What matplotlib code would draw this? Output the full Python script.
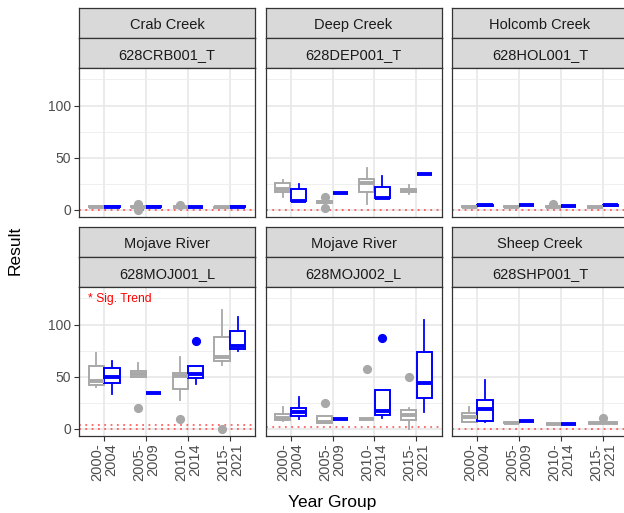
import matplotlib
matplotlib.use("Agg")
import matplotlib.pyplot as plt

plt.rcParams['font.family'] = ['Liberation Sans', 'DejaVu Sans']

# facet labels
sites = ["Crab Creek", "Deep Creek", "Holcomb Creek",
         "Mojave River", "Mojave River", "Sheep Creek"]
codes = ["628CRB001_T", "628DEP001_T", "628HOL001_T",
         "628MOJ001_L", "628MOJ002_L", "628SHP001_T"]
year_groups = ["2000-\n2004", "2005-\n2009", "2010-\n2014", "2015-\n2021"]

# box summaries per year group: [whisker low, q1, median, q3, whisker high]
crb_grey = [[3, 3, 3.2, 3.4, 3.4], [2, 2.5, 3, 3.5, 4], [2.5, 2.7, 3, 3.2, 3.5], [2.2, 2.3, 2.4, 2.5, 2.6]]
crb_blue = [[3, 3, 3.2, 3.4, 3.4], [3, 3, 3.2, 3.4, 3.4], [2.8, 2.8, 3, 3.1, 3.1], [3, 3, 3.1, 3.3, 3.3]]
crb_grey_out = [[], [5.5, 0.3], [5], []]
crb_blue_out = [[], [], [], []]

dep_grey = [[12, 16.7, 20, 25.6, 28.2], [6, 7, 8, 9, 10], [5.8, 17.6, 25.6, 29.5, 40], [15.4, 17.6, 19.2, 20.5, 24]]
dep_blue = [[8.5, 8.5, 9, 20, 25], [16, 16, 16, 16.2, 16.2], [11, 11, 11.5, 22.4, 32.7], [34.3, 34.3, 34.3, 34.5, 34.5]]
dep_grey_out = [[], [12.8, 1.5], [], []]
dep_blue_out = [[], [], [], []]

hol_grey = [[3, 3, 3.2, 3.4, 3.4], [3, 3, 3.2, 3.4, 3.4], [3, 3, 3.2, 3.4, 3.4], [2.5, 2.5, 2.6, 2.8, 2.8]]
hol_blue = [[3.8, 3.8, 4.3, 5, 5], [4.3, 4.3, 4.8, 5.1, 5.1], [3.5, 3.5, 3.8, 4.1, 4.1], [4.1, 4.1, 4.5, 4.8, 4.8]]
hol_grey_out = [[], [], [5.8], []]
hol_blue_out = [[], [], [], []]

moj1_grey = [[40, 42, 46, 60.3, 72.4], [50, 50, 52.2, 55.8, 62.8], [27.6, 38.1, 50.6, 53.8, 68.6], [60.9, 65.4, 69.2, 87.8, 113.5]]
moj1_blue = [[33.3, 43.6, 50, 58.6, 65.4], [34.6, 34.6, 34.6, 34.8, 34.8], [43, 49, 52.2, 60.6, 60.6], [75, 76.6, 79.5, 93.9, 107.7]]
moj1_grey_out = [[], [20.2], [9.6], [0]]
moj1_blue_out = [[], [], [84.6], []]

moj2_grey = [[7.4, 8.3, 10.9, 14.1, 21.2], [6.1, 6.1, 6.7, 12.2, 12.2], [9.3, 9.3, 9.3, 9.5, 9.5], [0, 8.3, 13.8, 18.6, 19.6]]
moj2_blue = [[9.3, 12.5, 16.3, 20.5, 30.8], [9.3, 9.3, 9.3, 9.5, 9.5], [10.6, 13.1, 17.3, 37.2, 37.2], [16.3, 30.1, 44.2, 74, 104.5]]
moj2_grey_out = [[], [24.4], [57.4], [50]]
moj2_blue_out = [[], [], [86.9], []]

shp_grey = [[7, 7, 11.2, 15.7, 20.8], [6.1, 6.1, 6.1, 6.3, 6.3], [4.5, 4.5, 4.5, 4.7, 4.7], [5.4, 5.4, 5.4, 5.6, 5.6]]
shp_blue = [[7, 8, 18.9, 27.9, 47.1], [7.7, 7.7, 7.7, 7.9, 7.9], [4.5, 4.5, 4.5, 4.7, 4.7], None]
shp_grey_out = [[], [], [], [10.9]]
shp_blue_out = [[], [], [], []]

# reporting limit lines (dotted red)
limits = [[0], [0], [0], [0, 4], [1.5], [0]]
sig_trend = [False, False, False, True, False, False]

grey_all = [crb_grey, dep_grey, hol_grey, moj1_grey, moj2_grey, shp_grey]
blue_all = [crb_blue, dep_blue, hol_blue, moj1_blue, moj2_blue, shp_blue]
grey_out_all = [crb_grey_out, dep_grey_out, hol_grey_out, moj1_grey_out, moj2_grey_out, shp_grey_out]
blue_out_all = [crb_blue_out, dep_blue_out, hol_blue_out, moj1_blue_out, moj2_blue_out, shp_blue_out]

GREY = '#A8A8A8'
BLUE = '#0000FF'
W, H = 624, 513

fig = plt.figure(figsize=(W / 100, H / 100), dpi=100)


def px_axes(x, top, w, h):
    return fig.add_axes([x / W, 1 - (top + h) / H, w / W, h / H])


def draw_boxes(ax, stats, outs, offsets, width, color):
    rows, pos, wid = [], [], []
    for i, s in enumerate(stats):
        if s is None:
            continue
        rows.append(dict(whislo=s[0], q1=s[1], med=s[2], q3=s[3], whishi=s[4], fliers=outs[i]))
        pos.append(i + 1 + offsets[i])
        wid.append(width[i])
    ax.bxp(rows, positions=pos, widths=wid,
           patch_artist=True, showcaps=False,
           boxprops=dict(facecolor='white', edgecolor=color, linewidth=1.4),
           medianprops=dict(color=color, linewidth=2.8, solid_capstyle='butt'),
           whiskerprops=dict(color=color, linewidth=1.3),
           flierprops=dict(marker='o', markerfacecolor=color, markeredgecolor=color, markersize=5.6),
           manage_ticks=False, zorder=3)


col_x = [79, 265.5, 452]
row_top = [7.5, 226.5]

for k in range(6):
    r, c = divmod(k, 3)
    x0 = col_x[c]
    t = row_top[r]

    s1 = px_axes(x0, t, 176, 30)
    s2 = px_axes(x0, t + 30, 176, 30)
    for s, lab in ((s1, sites[k]), (s2, codes[k])):
        s.set_facecolor('#D9D9D9')
        s.set_xticks([])
        s.set_yticks([])
        for sp in s.spines.values():
            sp.set_color('#333333')
            sp.set_linewidth(0.9)
        s.text(0.5, 0.47, lab, transform=s.transAxes, ha='center', va='center_baseline',
               fontsize=10.5, color='#1A1A1A')

    ax = px_axes(x0, t + 60, 176, 149.5)
    ax.set_xlim(0.4, 4.6)
    ax.set_ylim(-6.8, 136.5)
    ax.set_xticks([1, 2, 3, 4])
    ax.set_yticks([0, 50, 100])
    ax.set_yticks([25, 75, 125], minor=True)
    ax.grid(which='major', color='#E6E6E6', linewidth=1.1)
    ax.grid(which='minor', axis='y', color='#EDEDED', linewidth=0.6)
    ax.set_axisbelow(True)
    for sp in ax.spines.values():
        sp.set_color('#333333')
        sp.set_linewidth(0.9)
    ax.tick_params(which='major', length=3.5, width=0.8, color='#333333',
                   labelcolor='#4D4D4D', labelsize=10, pad=2)
    ax.tick_params(which='minor', length=0)

    if c == 0:
        ax.set_yticklabels(["0", "50", "100"])
    else:
        ax.tick_params(axis='y', which='both', left=False, labelleft=False)
    if r == 1:
        ax.set_xticklabels(year_groups, rotation=90, ha='center', va='top',
                           multialignment='right', linespacing=1.0, fontsize=10.5)
    else:
        ax.tick_params(axis='x', bottom=False, labelbottom=False)

    for v in limits[k]:
        ax.axhline(v, color='#FF2020', linestyle=(0, (1, 2.5)), linewidth=1.3, alpha=0.7, zorder=2)

    grey = grey_all[k]
    blue = blue_all[k]
    g_off, g_w, b_off, b_w = [], [], [], []
    for i in range(4):
        if blue[i] is None:
            g_off.append(0)
            g_w.append(0.72)
        else:
            g_off.append(-0.1875)
            g_w.append(0.36)
        b_off.append(0.1875)
        b_w.append(0.36)
    draw_boxes(ax, grey, grey_out_all[k], g_off, g_w, GREY)
    draw_boxes(ax, blue, blue_out_all[k], b_off, b_w, BLUE)

    if sig_trend[k]:
        ax.text(0.62, 124.7, "* Sig. Trend", color='red', fontsize=8.7, ha='left', va='center')

fig.text(15 / W, 1 - 250 / H, "Result", rotation=90, ha='center', va='center', fontsize=12.5)
fig.text(332 / W, 1 - 502 / H, "Year Group", ha='center', va='center', fontsize=12.5)

fig.savefig("out.png", dpi=100)
